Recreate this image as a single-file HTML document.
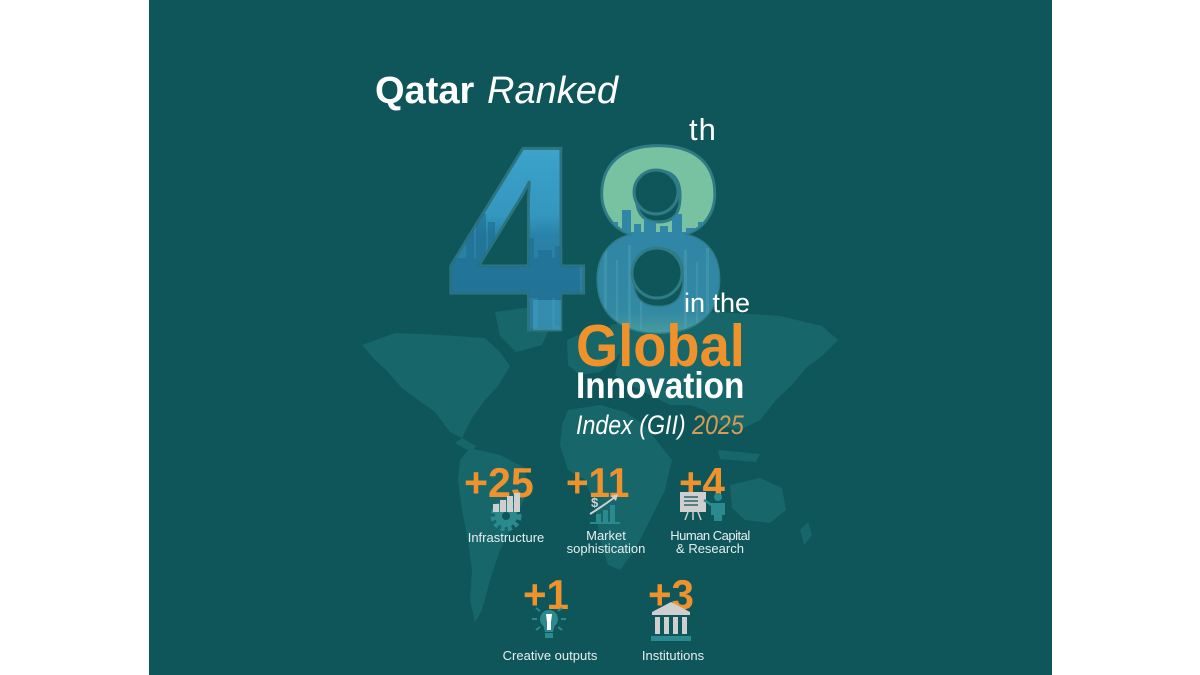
<!DOCTYPE html>
<html><head><meta charset="utf-8">
<style>
html,body{margin:0;padding:0;background:#fff;}
svg{display:block;}
text{font-family:"Liberation Sans",sans-serif;}
</style></head>
<body>
<svg width="1200" height="675" viewBox="0 0 1200 675" xmlns="http://www.w3.org/2000/svg">
<defs>
  <linearGradient id="g4" x1="0" y1="140" x2="0" y2="330" gradientUnits="userSpaceOnUse">
    <stop offset="0" stop-color="#3ea4cc"/>
    <stop offset="0.4" stop-color="#3397be"/>
    <stop offset="0.5" stop-color="#2a82a8"/>
    <stop offset="1" stop-color="#2a7ca0"/>
  </linearGradient>
  <linearGradient id="g8" x1="597" y1="0" x2="720" y2="0" gradientUnits="userSpaceOnUse">
    <stop offset="0" stop-color="#78c2a2"/>
    <stop offset="0.5" stop-color="#a3cb8e"/>
    <stop offset="1" stop-color="#c6cf80"/>
  </linearGradient>
  <linearGradient id="gb8" x1="0" y1="215" x2="0" y2="335" gradientUnits="userSpaceOnUse">
    <stop offset="0" stop-color="#2f86a6"/>
    <stop offset="0.8" stop-color="#3189a3"/>
    <stop offset="1" stop-color="#4a9c9e"/>
  </linearGradient>
  <clipPath id="c4">
    <text x="0" y="330" font-size="264" font-weight="bold" transform="translate(447,0) scale(0.94,1)">4</text>
  </clipPath>
  <clipPath id="c8">
    <text x="0" y="330" font-size="264" font-weight="bold" transform="translate(590,0) scale(0.93,1)">8</text>
  </clipPath>
</defs>

<rect x="0" y="0" width="1200" height="675" fill="#ffffff"/>
<rect x="149" y="0" width="903" height="675" fill="#0f565a"/>

<!-- world map -->
<g fill="#17666a">
  <polygon points="495,312 540,306 554,318 542,345 516,352 500,336"/>
  <polygon points="362,345 395,333 440,335 485,338 500,352 510,366 498,386 485,400 472,418 462,438 450,432 435,412 418,400 402,388 388,372 375,360"/>
  <polygon points="462,438 476,446 471,452 455,443"/>
  <polygon points="470,448 500,455 525,468 528,490 515,520 500,550 490,580 482,610 475,622 470,600 472,570 468,540 462,510 458,480 460,460"/>
  <polygon points="567,340 600,325 620,330 625,345 615,360 600,372 580,375 568,365"/>
  <polygon points="610,325 660,316 720,312 780,316 822,326 838,340 822,356 806,368 792,385 776,400 760,420 740,430 720,425 705,410 690,405 670,405 650,395 630,385 615,375 620,355"/>
  <polygon points="568,410 600,405 625,412 645,425 660,445 672,460 665,490 650,520 635,550 620,570 608,565 600,540 595,505 585,480 568,470 560,445 562,425"/>
  <polygon points="730,485 760,478 782,488 786,510 770,523 745,520 732,508"/>
  <polygon points="718,450 760,454 756,462 720,459"/>
  <polygon points="800,530 808,522 812,535 804,545"/>
</g>

<!-- title -->
<text x="375" y="103" font-size="38" font-weight="bold" fill="#ffffff">Qatar</text>
<text x="487" y="103" font-size="38" font-style="italic" fill="#ffffff">Ranked</text>

<!-- 4 -->
<text x="0" y="330" font-size="264" font-weight="bold" fill="url(#g4)" stroke="#2c7580" stroke-width="3" transform="translate(447,0) scale(0.94,1)">4</text>
<g clip-path="url(#c4)">
  <g fill="#1f6d90" opacity="0.6">
    <rect x="466" y="228" width="8" height="100"/>
    <rect x="476" y="214" width="10" height="120"/>
    <rect x="488" y="222" width="7" height="100"/>
    <rect x="497" y="234" width="12" height="90"/>
    <rect x="512" y="244" width="8" height="80"/>
    <rect x="524" y="238" width="10" height="60"/>
    <rect x="538" y="250" width="14" height="80"/>
    <rect x="555" y="246" width="8" height="80"/>
    <rect x="450" y="258" width="130" height="40"/>
  </g>
  <rect x="533" y="300" width="30" height="30" fill="#55bcd6" opacity="0.35"/>
</g>

<!-- 8 -->
<text x="0" y="330" font-size="264" font-weight="bold" fill="url(#g8)" stroke="#2f7c86" stroke-width="3" transform="translate(590,0) scale(0.93,1)">8</text>
<g clip-path="url(#c8)">
  <rect x="590" y="232" width="140" height="105" fill="url(#gb8)"/>
  <g fill="#2f86a6">
    <rect x="598" y="214" width="8" height="30"/>
    <rect x="608" y="222" width="10" height="20"/>
    <rect x="622" y="210" width="9" height="30"/>
    <rect x="634" y="224" width="7" height="20"/>
    <rect x="644" y="218" width="12" height="20"/>
    <rect x="660" y="226" width="8" height="16"/>
    <rect x="672" y="214" width="10" height="25"/>
    <rect x="686" y="228" width="9" height="12"/>
    <rect x="698" y="222" width="8" height="16"/>
  </g>
  <g fill="#5aa8b8" opacity="0.35">
    <rect x="604" y="250" width="3" height="80"/>
    <rect x="616" y="260" width="2" height="70"/>
    <rect x="628" y="245" width="3" height="85"/>
    <rect x="640" y="255" width="2" height="75"/>
    <rect x="684" y="250" width="3" height="80"/>
    <rect x="696" y="262" width="2" height="68"/>
    <rect x="706" y="248" width="3" height="82"/>
  </g>
</g>
<!-- enlarged 8 counters -->
<circle cx="656" cy="192" r="22" fill="#0f565a" stroke="#2f7c86" stroke-width="3"/>
<circle cx="657" cy="273" r="25" fill="#0f565a" stroke="#2f7c86" stroke-width="3"/>

<text x="689" y="140" font-size="31" fill="#ffffff" letter-spacing="1">th</text>
<text x="684" y="312" font-size="27" fill="#ffffff">in the</text>

<text x="0" y="0" font-size="59" font-weight="bold" fill="#f0922c" transform="translate(576,366) scale(0.92,1)">Global</text>
<text x="0" y="0" font-size="37" font-weight="bold" fill="#ffffff" transform="translate(576,398) scale(0.9,1)">Innovation</text>
<text x="0" y="0" font-size="27" font-style="italic" fill="#ffffff" transform="translate(576,434) scale(0.86,1)">Index (GII) <tspan fill="#d69c55">2025</tspan></text>

<!-- stats -->
<g font-weight="bold" fill="#f0922c" font-size="42">
  <text x="0" y="0" transform="translate(464,497) scale(0.98,1)">+25</text>
  <text x="0" y="0" transform="translate(566,497) scale(0.92,1)">+11</text>
  <text x="0" y="0" transform="translate(679,497) scale(0.96,1)">+4</text>
  <text x="0" y="0" transform="translate(523,609) scale(0.96,1)">+1</text>
  <text x="0" y="0" transform="translate(648,609) scale(0.96,1)">+3</text>
</g>

<!-- infrastructure icon -->
<g>
  <circle cx="506" cy="516" r="13" fill="none" stroke="#2a8a8e" stroke-width="5" stroke-dasharray="4 3.2"/>
  <circle cx="506" cy="516" r="11" fill="#2a8a8e"/>
  <circle cx="506" cy="516" r="4" fill="#0f565a"/>
  <g fill="#cfcfcf">
    <rect x="493" y="504" width="6" height="8"/>
    <rect x="500" y="500" width="6" height="12"/>
    <rect x="507" y="496" width="6" height="16"/>
    <rect x="514" y="493" width="6" height="19"/>
  </g>
</g>

<!-- market icon -->
<g>
  <text x="591" y="507" font-size="13" font-weight="bold" fill="#cfcfcf">$</text>
  <g fill="#2a8a8e">
    <rect x="596" y="514" width="5" height="8"/>
    <rect x="603" y="510" width="5" height="12"/>
    <rect x="610" y="505" width="5" height="17"/>
  </g>
  <rect x="590" y="522" width="30" height="2" fill="#2a8a8e"/>
  <path d="M590 514 Q603 506 615 497" fill="none" stroke="#cfcfcf" stroke-width="2"/>
  <polygon points="618,494 611,496 616,501" fill="#cfcfcf"/>
</g>

<!-- human capital icon -->
<g>
  <rect x="680" y="492" width="26" height="20" fill="#cfcfcf"/>
  <g stroke="#0f565a" stroke-width="1.3">
    <line x1="684" y1="497" x2="698" y2="497"/>
    <line x1="684" y1="501" x2="698" y2="501"/>
    <line x1="684" y1="505" x2="698" y2="505"/>
  </g>
  <g stroke="#cfcfcf" stroke-width="1.5">
    <line x1="688" y1="512" x2="685" y2="520"/>
    <line x1="693" y1="512" x2="693" y2="520"/>
    <line x1="698" y1="512" x2="701" y2="520"/>
  </g>
  <circle cx="718" cy="497" r="4" fill="#2a8a8e"/>
  <path d="M711 503 h14 v12 h-3 v6 h-8 v-6 h-3 z" fill="#2a8a8e"/>
  <line x1="704" y1="500" x2="713" y2="506" stroke="#2a8a8e" stroke-width="2.5"/>
</g>

<!-- lightbulb icon -->
<g>
  <circle cx="549" cy="619" r="9" fill="#2a8a8e"/>
  <path d="M543 624 h12 l-2 8 h-8 z" fill="#2a8a8e"/>
  <rect x="545" y="633" width="8" height="5" fill="#2a8a8e"/>
  <path d="M546 614 h6 l-1 8 h-4 z" fill="#ffffff"/>
  <rect x="547" y="622" width="4" height="8" fill="#ffffff"/>
  <g stroke="#2a8a8e" stroke-width="2">
    <line x1="532" y1="619" x2="537" y2="619"/>
    <line x1="561" y1="619" x2="566" y2="619"/>
    <line x1="536" y1="608" x2="540" y2="611"/>
    <line x1="562" y1="608" x2="558" y2="611"/>
    <line x1="536" y1="630" x2="540" y2="627"/>
    <line x1="562" y1="630" x2="558" y2="627"/>
  </g>
</g>

<!-- institutions icon -->
<g>
  <polygon points="671,602 690,612 652,612" fill="#cfcfcf"/>
  <rect x="652" y="612" width="38" height="3" fill="#cfcfcf"/>
  <g fill="#cfcfcf">
    <rect x="655" y="617" width="5" height="17"/>
    <rect x="664" y="617" width="5" height="17"/>
    <rect x="673" y="617" width="5" height="17"/>
    <rect x="682" y="617" width="5" height="17"/>
  </g>
  <rect x="651" y="636" width="40" height="5" fill="#2a8a8e"/>
</g>

<!-- labels -->
<g font-size="13" fill="#e6eeee" text-anchor="middle">
  <text x="506" y="542">Infrastructure</text>
  <text x="606" y="540">Market</text>
  <text x="606" y="553">sophistication</text>
  <text x="710" y="540" letter-spacing="-0.5">Human Capital</text>
  <text x="710" y="553">&amp; Research</text>
  <text x="550" y="660">Creative outputs</text>
  <text x="673" y="660">Institutions</text>
</g>
</svg>
</body></html>
